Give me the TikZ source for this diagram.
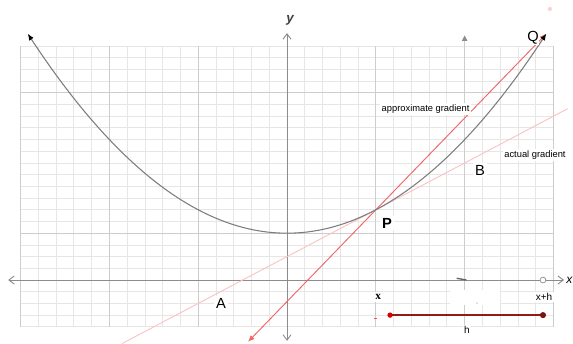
\documentclass[tikz,border=0pt]{standalone}
\usepackage{fontspec}
\setmainfont{Liberation Sans}
\newfontfamily\serifx{Liberation Serif}
\usetikzlibrary{arrows.meta}
\usetikzlibrary{math}
\definecolor{gridgrey}{RGB}{230,230,230}
\definecolor{majorgrey}{RGB}{205,205,205}
\definecolor{axisgrey}{RGB}{140,140,140}
\definecolor{curvegrey}{RGB}{125,125,125}
\definecolor{secred}{RGB}{242,100,100}
\definecolor{tanpink}{RGB}{250,195,195}
\definecolor{hred}{RGB}{150,25,25}

\tikzset{
  lbl/.style={fill=white, inner sep=1.5pt, font=\fontsize{11}{12}\selectfont},
  smalllbl/.style={fill=white, inner sep=1pt, font=\fontsize{7}{8}\selectfont},
}

\begin{document}
\begin{tikzpicture}[x=13.32pt, y=8.775pt]
\tikzmath{
\curv=0.08;
\base=4;
\xp=5;
\yp=\curv*\xp*\xp+\base;
\xq=14.6;
\yq=\curv*\xq*\xq+\base;
\msec=(\yq-\yp)/(\xq-\xp);
\mtan=2*\curv*\xp;
}
\useasboundingbox (-16.16,-5.385) rectangle (16.10,23.93);

\coordinate (P) at (\xp,\yp);%point on curve
\coordinate (Q) at (\xq,\yq);
\coordinate (S) at (-2.2,{\yp+\msec*(-2.2-\xp)});%end of secant
\coordinate (T1) at (-9.3,{\yp+\mtan*(-9.3-\xp)});%ends of tangent
\coordinate (T2) at (15.8,{\yp+\mtan*(15.8-\xp)});
\coordinate (H1) at (5.8,-3);%h bar
\coordinate (H2) at (14.41,-3);

%grid
\draw[gridgrey, line width=0.6pt, step={(1,1)}] (-15,-4) grid (15,20);
\foreach \i in {-15,-10,...,15}
  \draw[majorgrey, line width=0.6pt] (\i,-4) -- (\i,20);
\foreach \j in {4,16}
  \draw[majorgrey, line width=0.6pt] (-15,\j) -- (15,\j);
\fill[white] (9.2,-0.85) rectangle (12,-2.1);

%axes
\draw[axisgrey, line width=0.7pt, {Straight Barb[length=4pt,width=6pt]}-{Straight Barb[length=4pt,width=6pt]}] (-15.7,0) -- (15.6,0);
\draw[axisgrey, line width=0.7pt, {Straight Barb[length=4pt,width=6pt]}-{Straight Barb[length=4pt,width=6pt]}] (0,-5.2) -- (0,21.1);
\node[anchor=east, inner sep=0.3pt, font=\itshape\fontsize{9}{11}\selectfont] (xlab) at (16.10,0) {x};
\node[font=\bfseries\itshape\fontsize{10}{12}\selectfont, text=black!75] (ylab) at (0.17,22.2) {y};

%vertical at x+h side
\draw[majorgrey, line width=0.6pt, -{Triangle[length=4pt,width=4pt,color=axisgrey]}] (10,0) -- (10,20.9);
\draw[axisgrey!70!black, line width=1pt] (9.55,0.15) -- (10.1,0);
\node[lbl] (labB) at (10.87,9.4) {B};

%tangent and secant
\draw[tanpink, line width=0.7pt] (T1) -- (T2);
\draw[secred, line width=0.7pt, {Latex[length=5pt,width=4pt]}-{Latex[length=5pt,width=4pt]}] (S) -- (Q);

%curve
\draw[curvegrey, line width=0.8pt, {Latex[length=5pt,width=4pt,color=black]}-{Latex[length=5pt,width=4pt,color=black]}]
  plot[domain=-14.6:14.6, samples=90] (\x,{\curv*\x*\x+\base});

\node[smalllbl] (labapprox) at (7.8,14.6) {approximate gradient};
\node[smalllbl] (labactual) at (13.96,10.68) {actual gradient};
\node[lbl, font=\bfseries\fontsize{11}{12}\selectfont] (labP) at (5.63,4.87) {P};
\node[lbl] (labA) at (-3.72,-1.97) {A};
\node[lbl, inner sep=0.5pt] (labQ) at (13.85,20.7) {Q};
\fill[pink!70] (14.8,23.16) circle (1.6pt);

%x and x+h
\node[fill=white, inner sep=2pt, font=\serifx\bfseries\fontsize{8.5}{10}\selectfont] (labx) at (5.13,-1.45) {x};
\node[fill=white, inner sep=1pt, font=\fontsize{7.5}{9}\selectfont] (labxh) at (14.47,-1.45) {x+h};
\draw[axisgrey, fill=white, line width=0.5pt] (14.41,0) circle (2.2pt);
\fill[black!60] (10.7,-1.97) circle (0.4pt);

%h bar
\draw[red!70, line width=0.5pt] (4.92,-3.3) -- (5.08,-3.3);
\draw[hred, line width=1.1pt] (H1) -- (H2);
\fill[red!85!black] (H1) circle (2pt);
\fill[hred!80!black] (H2) circle (2.3pt);
\node[fill=white, inner sep=1pt, font=\fontsize{7.5}{9}\selectfont] (labh) at (10.13,-4.27) {h};
\end{tikzpicture}
\end{document}
